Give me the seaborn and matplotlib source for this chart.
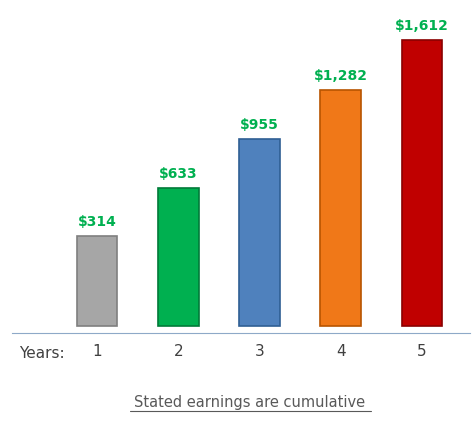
import matplotlib
matplotlib.use("Agg")
import matplotlib.pyplot as plt
import seaborn as sns
import pandas as pd

years = ["1", "2", "3", "4", "5"]
earnings = [314, 633, 955, 1282, 1612]
labels = ["$314", "$633", "$955", "$1,282", "$1,612"]
colors = ["#A6A6A6", "#00B050", "#4F81BD", "#F07818", "#C00000"]
edges = ["#7F7F7F", "#007A38", "#2F5F94", "#B85400", "#8A0000"]

sns.set_style("white")
plt.rcParams['font.family'] = ['DejaVu Sans']
fig = plt.figure(figsize=(4.74, 4.26), dpi=100)
ax = fig.add_axes([12/474, 93/426, 458/474, 333/426])
df = pd.DataFrame({"year": years, "val": earnings})
sns.barplot(data=df, x="year", y="val", hue="year", palette=colors, legend=False,
            width=0.5, ax=ax, saturation=1)
base = -282
for p, v, ec, lab in zip(ax.patches, earnings, edges, labels):
    p.set_y(base); p.set_height(v - base)
    p.set_edgecolor(ec); p.set_linewidth(1.2)
    ax.text(p.get_x() + p.get_width()/2, v + 45, lab, ha="center", va="bottom",
            color="#00B050", fontsize=10, fontweight="bold")
ax.set_xlim(-1.045, 4.59)
ax.set_ylim(-328, 1877)
for s in ["top", "right", "left"]:
    ax.spines[s].set_visible(False)
ax.spines["bottom"].set_color("#8EA9C8")
ax.set_yticks([])
ax.set_xlabel(""); ax.set_ylabel("")
ax.tick_params(axis="x", length=0, pad=8, labelsize=11, labelcolor="#404040")
fig.text(42/474, 1-354/426, "Years:", ha="center", va="center", fontsize=11, color="#404040")
fig.text(250/474, 1-403/426, "Stated earnings are cumulative", ha="center", va="center",
         fontsize=10.5, color="#595959")
fig.add_artist(plt.Line2D([130/474, 371/474], [1-411/426]*2, color="#595959", lw=0.8))
fig.savefig("out.png", dpi=100)
